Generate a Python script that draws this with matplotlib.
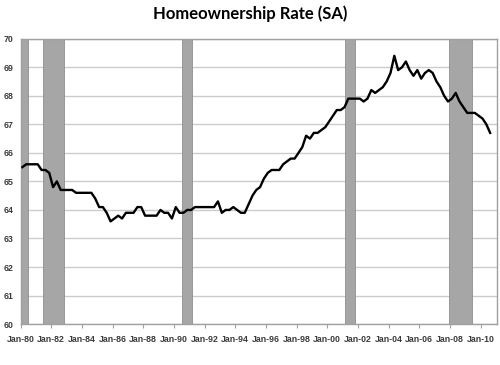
#!/usr/bin/env python3
"""Homeownership rate (seasonally adjusted), quarterly, with recession shading."""

import pandas as pd
import matplotlib
matplotlib.use("Agg")
import matplotlib.pyplot as plt
import matplotlib.dates as mdates

# quarterly values, 1980Q1 .. 2010Q3
rate = [
    65.5, 65.6, 65.6, 65.6, 65.6, 65.4, 65.4, 65.3,   # 1980-81
    64.8, 65.0, 64.7, 64.7, 64.7, 64.7, 64.6, 64.6,   # 1982-83
    64.6, 64.6, 64.6, 64.4, 64.1, 64.1, 63.9, 63.6,   # 1984-85
    63.7, 63.8, 63.7, 63.9, 63.9, 63.9, 64.1, 64.1,   # 1986-87
    63.8, 63.8, 63.8, 63.8, 64.0, 63.9, 63.9, 63.7,   # 1988-89
    64.1, 63.9, 63.9, 64.0, 64.0, 64.1, 64.1, 64.1,   # 1990-91
    64.1, 64.1, 64.1, 64.3, 63.9, 64.0, 64.0, 64.1,   # 1992-93
    64.0, 63.9, 63.9, 64.2, 64.5, 64.7, 64.8, 65.1,   # 1994-95
    65.3, 65.4, 65.4, 65.4, 65.6, 65.7, 65.8, 65.8,   # 1996-97
    66.0, 66.2, 66.6, 66.5, 66.7, 66.7, 66.8, 66.9,   # 1998-99
    67.1, 67.3, 67.5, 67.5, 67.6, 67.9, 67.9, 67.9,   # 2000-01
    67.9, 67.8, 67.9, 68.2, 68.1, 68.2, 68.3, 68.5,   # 2002-03
    68.8, 69.4, 68.9, 69.0, 69.2, 68.9, 68.7, 68.9,   # 2004-05
    68.6, 68.8, 68.9, 68.8, 68.5, 68.3, 68.0, 67.8,   # 2006-07
    67.9, 68.1, 67.8, 67.6, 67.4, 67.4, 67.4, 67.3,   # 2008-09
    67.2, 67.0, 66.7,                                 # 2010
]

# NBER recessions (start, end)
recession_start = ["1980-01-01", "1981-07-01", "1990-07-01", "2001-03-01", "2007-12-01"]
recession_end = ["1980-07-01", "1982-11-01", "1991-03-01", "2001-11-01", "2009-06-01"]

tick_years = list(range(1980, 2011, 2))
y_ticks = list(range(60, 71))

dates = pd.date_range("1980-01-01", periods=len(rate), freq="QS") + pd.Timedelta(days=45)

fig = plt.figure(figsize=(5, 3.65), dpi=100)
ax = fig.add_axes([0.041, 0.112, 0.953, 0.782])

for s, e in zip(recession_start, recession_end):
    ax.axvspan(pd.Timestamp(s), pd.Timestamp(e), facecolor="#a6a6a6",
               edgecolor="#8f8f8f", lw=0.6, zorder=2)

ax.plot(dates, rate, color="black", lw=1.7, zorder=3)

ax.set_ylim(60, 70)
ax.set_yticks(y_ticks)
ax.set_xlim(pd.Timestamp("1980-01-01"), pd.Timestamp("2011-01-25"))
ax.set_xticks([pd.Timestamp(f"{y}-01-01") for y in tick_years])
ax.xaxis.set_major_formatter(mdates.DateFormatter("Jan-%y"))

ax.grid(axis="y", color="#cccccc", lw=1.0, zorder=1)
ax.set_axisbelow(True)
for sp in ax.spines.values():
    sp.set_color("#a0a0a0")
    sp.set_linewidth(1.0)

ax.tick_params(axis="x", length=3, width=0.8, color="#a0a0a0", pad=5,
               labelsize=6.3, labelcolor="#3a3a3a")
ax.tick_params(axis="y", length=0, pad=5, labelsize=6.3, labelcolor="#3a3a3a")
for lab in ax.get_xticklabels() + ax.get_yticklabels():
    lab.set_fontweight("bold")
    lab.set_family("Liberation Sans")

fig.text(0.5, 0.962, "Homeownership Rate (SA)", ha="center", va="center",
         fontsize=12, fontweight="bold", family="Lato")

fig.savefig("out.png", dpi=100)
